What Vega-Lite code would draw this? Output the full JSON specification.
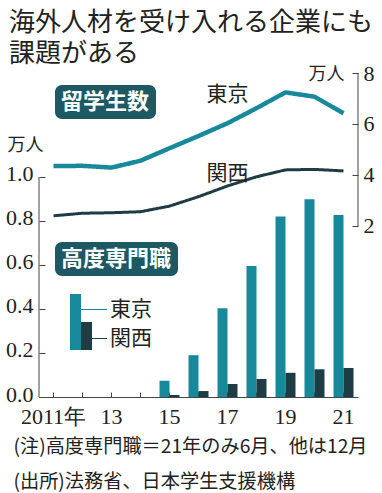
{
  "$schema": "https://vega.github.io/schema/vega-lite/v6.json",
  "width": 319,
  "height": 324,
  "autosize": {"type": "none"},
  "padding": {"left": 39, "top": 73, "right": 24, "bottom": 96},
  "background": "white",
  "title": {
    "text": ["海外人材を受け入れる企業にも", "課題がある"],
    "anchor": "start",
    "frame": "group",
    "dx": -30,
    "dy": 5,
    "font": "Noto Sans CJK JP",
    "fontSize": 26,
    "fontWeight": "normal",
    "color": "#222222",
    "lineHeight": 31,
    "offset": 0
  },
  "config": {
    "view": {"stroke": null},
    "axis": {"grid": false, "domainColor": "#444444", "tickColor": "#444444", "labelColor": "#222222", "titleColor": "#222222"}
  },
  "datasets": {
    "students": [
      {"year": 2011, "region": "東京", "value": 4.35, "panel": "留学生数"},
      {"year": 2012, "region": "東京", "value": 4.36, "panel": "留学生数"},
      {"year": 2013, "region": "東京", "value": 4.29, "panel": "留学生数"},
      {"year": 2014, "region": "東京", "value": 4.56, "panel": "留学生数"},
      {"year": 2015, "region": "東京", "value": 5.05, "panel": "留学生数"},
      {"year": 2016, "region": "東京", "value": 5.53, "panel": "留学生数"},
      {"year": 2017, "region": "東京", "value": 6.03, "panel": "留学生数"},
      {"year": 2018, "region": "東京", "value": 6.62, "panel": "留学生数"},
      {"year": 2019, "region": "東京", "value": 7.24, "panel": "留学生数"},
      {"year": 2020, "region": "東京", "value": 7.07, "panel": "留学生数"},
      {"year": 2021, "region": "東京", "value": 6.42, "panel": "留学生数"},
      {"year": 2011, "region": "関西", "value": 2.40, "panel": "留学生数"},
      {"year": 2012, "region": "関西", "value": 2.50, "panel": "留学生数"},
      {"year": 2013, "region": "関西", "value": 2.52, "panel": "留学生数"},
      {"year": 2014, "region": "関西", "value": 2.56, "panel": "留学生数"},
      {"year": 2015, "region": "関西", "value": 2.78, "panel": "留学生数"},
      {"year": 2016, "region": "関西", "value": 3.15, "panel": "留学生数"},
      {"year": 2017, "region": "関西", "value": 3.57, "panel": "留学生数"},
      {"year": 2018, "region": "関西", "value": 3.93, "panel": "留学生数"},
      {"year": 2019, "region": "関西", "value": 4.20, "panel": "留学生数"},
      {"year": 2020, "region": "関西", "value": 4.22, "panel": "留学生数"},
      {"year": 2021, "region": "関西", "value": 4.16, "panel": "留学生数"}
    ],
    "visas": [
      {"year": 2015, "region": "東京", "value": 0.074, "panel": "高度専門職"},
      {"year": 2016, "region": "東京", "value": 0.19, "panel": "高度専門職"},
      {"year": 2017, "region": "東京", "value": 0.403, "panel": "高度専門職"},
      {"year": 2018, "region": "東京", "value": 0.595, "panel": "高度専門職"},
      {"year": 2019, "region": "東京", "value": 0.82, "panel": "高度専門職"},
      {"year": 2020, "region": "東京", "value": 0.899, "panel": "高度専門職"},
      {"year": 2021, "region": "東京", "value": 0.827, "panel": "高度専門職"},
      {"year": 2015, "region": "関西", "value": 0.009, "panel": "高度専門職"},
      {"year": 2016, "region": "関西", "value": 0.027, "panel": "高度専門職"},
      {"year": 2017, "region": "関西", "value": 0.059, "panel": "高度専門職"},
      {"year": 2018, "region": "関西", "value": 0.082, "panel": "高度専門職"},
      {"year": 2019, "region": "関西", "value": 0.11, "panel": "高度専門職"},
      {"year": 2020, "region": "関西", "value": 0.126, "panel": "高度専門職"},
      {"year": 2021, "region": "関西", "value": 0.132, "panel": "高度専門職"}
    ]
  },
  "layer": [
    {
      "layer": [
        {
          "data": {"name": "visas"},
          "transform": [{"filter": "datum.region == '東京'"}],
          "mark": {"type": "bar", "strokeWidth": 0},
          "encoding": {
            "x": {
              "field": "year", "type": "ordinal",
              "scale": {"domain": [2011, 2012, 2013, 2014, 2015, 2016, 2017, 2018, 2019, 2020, 2021], "paddingInner": 0, "paddingOuter": 0},
              "axis": {
                "orient": "bottom",
                "labelExpr": "datum.value == 2011 ? '2011年' : (datum.value % 2 == 1 ? substring(datum.label, 2) : '')",
                "labelAngle": 0,
                "labelOverlap": false,
                "labelFont": "Liberation Sans Narrow",
                "labelFontSize": 22,
                "tickSize": -5,
                "labelPadding": 14.5,
                "title": ["(注)高度専門職＝21年のみ6月、他は12月", "(出所)法務省、日本学生支援機構"],
                "titleFont": "Noto Sans CJK JP",
                "titleFontSize": 19.2,
                "titleFontWeight": "normal",
                "titleAlign": "left",
                "titleAnchor": "start",
                "titleBaseline": "top",
                "titleX": -26,
                "titleY": 40,
                "titleLineHeight": 35.5
              }
            },
            "xOffset": {"field": "region", "type": "nominal", "scale": {"domain": ["東京", "関西"], "paddingInner": 0, "paddingOuter": 0.45}},
            "y": {
              "field": "value", "type": "quantitative",
              "scale": {"domain": [0, 1.4727], "nice": false, "zero": false},
              "axis": {
                "orient": "left",
                "values": [0, 0.2, 0.4, 0.6, 0.8, 1.0],
                "format": ".1f",
                "domain": false,
                "tickSize": -6,
                "labelPadding": 12,
                "labelOffset": -3,
                "labelFont": "Liberation Sans Narrow",
                "labelFontSize": 22,
                "title": "万人",
                "titleAngle": 0,
                "titleFont": "Noto Sans CJK JP",
                "titleFontSize": 18,
                "titleFontWeight": "normal",
                "titleAlign": "left",
                "titleBaseline": "top",
                "titleX": -32,
                "titleY": 63
              }
            },
            "fill": {
              "field": "region", "type": "nominal",
              "scale": {"domain": ["東京"], "range": ["#17899a"]},
              "legend": {
                "orient": "none", "legendX": 30.5, "legendY": 226, "title": null,
                "padding": 0,
                "labelFont": "Noto Sans CJK JP", "labelFontSize": 21, "labelColor": "#222222",
                "symbolSize": 4, "symbolOffset": 0, "labelOffset": 19.5,
                "symbolStrokeWidth": 0,
                "encode": {
                  "symbols": {
                    "update": {
                      "shape": {"value": "M-10,-15.5H1V40.5H-10Z M1,-0.5H27V0.5H1Z"},
                      "stroke": {"value": "transparent"},
                      "strokeWidth": {"value": 0}
                    }
                  }
                }
              }
            },
            "strokeDash": {
              "field": "panel", "type": "nominal",
              "legend": {
                "orient": "none", "legendX": 16, "legendY": 169, "title": null,
                "fillColor": "#1d5863", "cornerRadius": 7, "padding": 6,
                "labelColor": "white", "labelFont": "Noto Sans CJK JP", "labelFontSize": 22, "labelFontWeight": "bold",
                "symbolSize": 0, "symbolOpacity": 0, "symbolStrokeWidth": 0,
                "symbolOffset": 0, "labelOffset": -22
              }
            }
          }
        },
        {
          "data": {"name": "visas"},
          "transform": [{"filter": "datum.region == '関西'"}],
          "mark": {"type": "bar", "strokeWidth": 0},
          "encoding": {
            "x": {"field": "year", "type": "ordinal"},
            "xOffset": {"field": "region", "type": "nominal", "scale": {"domain": ["東京", "関西"], "paddingInner": 0, "paddingOuter": 0.45}},
            "y": {"field": "value", "type": "quantitative"},
            "fill": {
              "field": "region", "type": "nominal",
              "scale": {"domain": ["関西"], "range": ["#1e3c44"]},
              "legend": {
                "orient": "none", "legendX": 30.5, "legendY": 255, "title": null,
                "padding": 0,
                "labelFont": "Noto Sans CJK JP", "labelFontSize": 21, "labelColor": "#222222",
                "symbolSize": 4, "symbolOffset": 0, "labelOffset": 19.5,
                "symbolStrokeWidth": 0,
                "encode": {
                  "symbols": {
                    "update": {
                      "shape": {"value": "M1,-16.5H12V11.5H1Z M12,-0.5H27V0.5H12Z"},
                      "stroke": {"value": "transparent"},
                      "strokeWidth": {"value": 0}
                    }
                  }
                }
              }
            }
          }
        },
        {
          "data": {"values": [{"from": 0, "to": 1}]},
          "mark": {"type": "rule", "color": "#444444", "strokeWidth": 1},
          "encoding": {
            "x": {"datum": 2011, "type": "ordinal", "bandPosition": 0},
            "y": {"field": "from", "type": "quantitative"},
            "y2": {"field": "to"}
          }
        }
      ],
      "resolve": {"scale": {"fill": "independent"}, "legend": {"fill": "independent"}}
    },
    {
      "layer": [
        {
          "data": {"name": "students"},
          "mark": {"type": "line", "interpolate": "linear", "strokeCap": "butt", "strokeJoin": "round"},
          "encoding": {
            "x": {"field": "year", "type": "ordinal"},
            "y": {
              "field": "value", "type": "quantitative",
              "scale": {"domain": [-4.706, 8], "nice": false, "zero": false},
              "axis": {
                "orient": "right",
                "values": [2, 4, 6, 8],
                "format": "d",
                "domain": false,
                "tickSize": -6,
                "labelPadding": 11,
                "labelFont": "Liberation Sans Narrow",
                "labelFontSize": 22,
                "title": "万人",
                "titleAngle": 0,
                "titleFont": "Noto Sans CJK JP",
                "titleFontSize": 18,
                "titleFontWeight": "normal",
                "titleAlign": "left",
                "titleBaseline": "top",
                "titleX": -50,
                "titleY": -8
              }
            },
            "stroke": {"field": "region", "type": "nominal", "scale": {"domain": ["東京", "関西"], "range": ["#17899a", "#1e3c44"]}, "legend": null},
            "strokeWidth": {"field": "region", "type": "nominal", "scale": {"domain": ["東京", "関西"], "range": [4.5, 3]}, "legend": null},
            "strokeDash": {
              "field": "panel", "type": "nominal",
              "legend": {
                "orient": "none", "legendX": 16, "legendY": 12, "title": null,
                "fillColor": "#1d5863", "cornerRadius": 7, "padding": 6,
                "labelColor": "white", "labelFont": "Noto Sans CJK JP", "labelFontSize": 22, "labelFontWeight": "bold",
                "symbolSize": 0, "symbolOpacity": 0, "symbolStrokeWidth": 0,
                "symbolOffset": 0, "labelOffset": -22
              }
            }
          }
        },
        {
          "data": {"name": "students"},
          "transform": [{"filter": "datum.year == 2017 && datum.region == '東京'"}],
          "mark": {"type": "text", "dy": -28, "font": "Noto Sans CJK JP", "fontSize": 21, "color": "#222222"},
          "encoding": {
            "x": {"field": "year", "type": "ordinal"},
            "y": {"field": "value", "type": "quantitative"},
            "text": {"field": "region"}
          }
        },
        {
          "data": {"name": "students"},
          "transform": [{"filter": "datum.year == 2017 && datum.region == '関西'"}],
          "mark": {"type": "text", "dy": -12, "font": "Noto Sans CJK JP", "fontSize": 21, "color": "#222222"},
          "encoding": {
            "x": {"field": "year", "type": "ordinal"},
            "y": {"field": "value", "type": "quantitative"},
            "text": {"field": "region"}
          }
        },
        {
          "data": {"values": [{"from": 2, "to": 8}]},
          "mark": {"type": "rule", "color": "#444444", "strokeWidth": 1},
          "encoding": {
            "x": {"datum": 2021, "type": "ordinal", "bandPosition": 1},
            "y": {"field": "from", "type": "quantitative"},
            "y2": {"field": "to"}
          }
        }
      ]
    }
  ],
  "resolve": {
    "scale": {"y": "independent", "strokeDash": "independent"},
    "legend": {"strokeDash": "independent"}
  }
}
